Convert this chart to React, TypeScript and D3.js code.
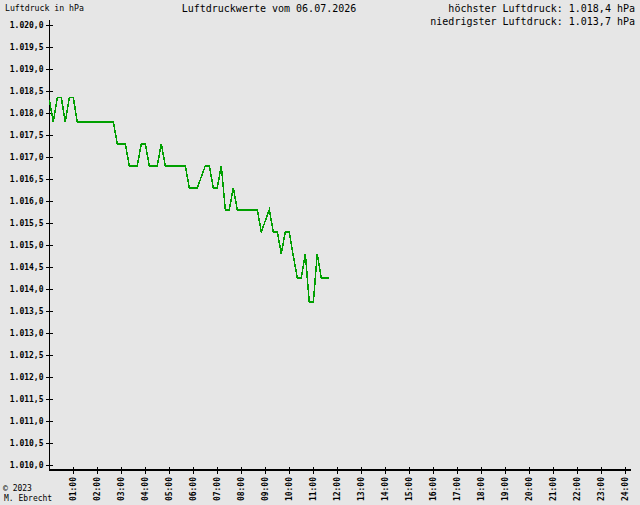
import React from "react";
import * as d3 from "d3";

const minutes = [0,10,20,30,40,50,60,70,80,90,100,110,120,130,140,150,160,170,180,190,200,210,220,230,240,250,260,270,280,290,300,310,320,330,340,350,360,370,380,390,400,410,420,430,440,450,460,470,480,490,500,510,520,530,540,550,560,570,580,590,600,610,620,630,640,650,660,670,680,690,700];
const pressure = [1018.3,1017.8,1018.35,1018.35,1017.8,1018.35,1018.35,1017.8,1017.8,1017.8,1017.8,1017.8,1017.8,1017.8,1017.8,1017.8,1017.8,1017.3,1017.3,1017.3,1016.8,1016.8,1016.8,1017.3,1017.3,1016.8,1016.8,1016.8,1017.3,1016.8,1016.8,1016.8,1016.8,1016.8,1016.8,1016.3,1016.3,1016.3,1016.55,1016.8,1016.8,1016.3,1016.3,1016.8,1015.8,1015.8,1016.3,1015.8,1015.8,1015.8,1015.8,1015.8,1015.8,1015.3,1015.55,1015.8,1015.3,1015.3,1014.8,1015.3,1015.3,1014.75,1014.25,1014.25,1014.8,1013.7,1013.7,1014.8,1014.25,1014.25,1014.25];
const yTicks = [1010,1010.5,1011,1011.5,1012,1012.5,1013,1013.5,1014,1014.5,1015,1015.5,1016,1016.5,1017,1017.5,1018,1018.5,1019,1019.5,1020];
const xHours = [1,2,3,4,5,6,7,8,9,10,11,12,13,14,15,16,17,18,19,20,21,22,23,24];
const title = "Luftdruckwerte vom 06.07.2026";
const unitLabel = "Luftdruck in hPa";
const maxLabel = "höchster Luftdruck: 1.018,4 hPa";
const minLabel = "niedrigster Luftdruck: 1.013,7 hPa";
const footer = ["© 2023", "M. Ebrecht"];

const W = 640, H = 505;
const mono = "'DejaVu Sans Mono', monospace";

export default function App() {
  const x = d3.scaleLinear().domain([0, 1440]).range([49.3, 625.3]);
  const y = d3.scaleLinear().domain([1010, 1020]).range([465, 25]);
  const de = d3.formatLocale({ decimal: ",", thousands: ".", grouping: [3], currency: ["", "€"] });
  const fmt = de.format(",.1f");
  const pts = minutes.map((m, i) => [m, pressure[i]] as [number, number]);
  const line = d3.line<[number, number]>().x(d => x(d[0])).y(d => y(d[1]));
  const axisY = 470;
  const axisX = 49.5;
  return (
    <svg width={W} height={H} style={{ position: "fixed", left: 0, top: 0 }} fontFamily={mono}>
      <rect x={0} y={0} width={W} height={H} fill="#e6e6e6" />
      <text x={5} y={11} fontSize={8.2} fill="#000">{unitLabel}</text>
      <text x={269} y={12} fontSize={10} textAnchor="middle" fill="#000">{title}</text>
      <text x={635} y={12} fontSize={10} textAnchor="end" fill="#000">{maxLabel}</text>
      <text x={635} y={25} fontSize={10} textAnchor="end" fill="#000">{minLabel}</text>
      <g shapeRendering="crispEdges">
        <line x1={axisX} x2={axisX} y1={20} y2={axisY} stroke="#000" strokeWidth={1.5} />
        <line x1={49} x2={631} y1={axisY} y2={axisY} stroke="#000" strokeWidth={1.5} />
        {yTicks.map(t => (
          <line key={t} x1={46} x2={53} y1={y(t)} y2={y(t)} stroke="#000" strokeWidth={1} />
        ))}
        {xHours.map(h => (
          <line key={h} x1={x(h * 60)} x2={x(h * 60)} y1={467} y2={474} stroke="#000" strokeWidth={1} />
        ))}
      </g>
      {yTicks.map(t => (
        <text key={t} x={43.5} y={y(t)} dy="0.35em" fontSize={8} fontWeight="bold" textAnchor="end" fill="#000">{fmt(t)}</text>
      ))}
      {xHours.map(h => (
        <text key={h} transform={`translate(${x(h * 60)},477) rotate(-90)`} dy="0.35em" fontSize={8} fontWeight="bold" textAnchor="end" fill="#000">
          {String(h).padStart(2, "0") + ":00"}
        </text>
      ))}
      <path d={line(pts) || ""} fill="none" stroke="#00a000" strokeWidth={1.5} shapeRendering="crispEdges" />
      <text x={3} y={491} fontSize={8} fill="#000">{footer[0]}</text>
      <text x={4} y={501} fontSize={8} fill="#000">{footer[1]}</text>
    </svg>
  );
}
